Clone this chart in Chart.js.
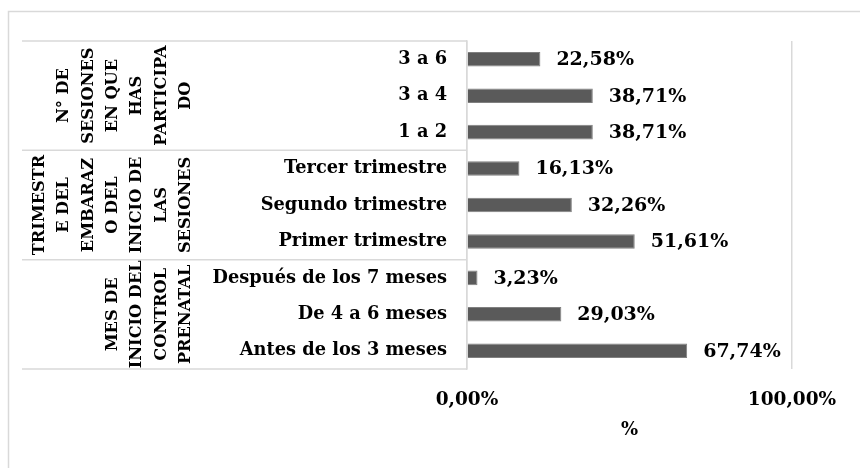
<!DOCTYPE html>
<html>
<head>
<meta charset="utf-8">
<script src="https://cdn.jsdelivr.net/npm/chart.js@4.4.0/dist/chart.umd.min.js"></script>
<style>
  html, body { margin: 0; padding: 0; background: #fff; }
  #wrap { width: 860px; height: 468px; position: relative; }
</style>
</head>
<body>
<div id="wrap"><canvas id="barChart" width="860" height="468"></canvas></div>
<script>
// categories, top to bottom
const categories = [
    '3 a 6', '3 a 4', '1 a 2',
    'Tercer trimestre', 'Segundo trimestre', 'Primer trimestre',
    'Después de los 7 meses', 'De 4 a 6 meses', 'Antes de los 3 meses'
];
const percentages = [22.58, 38.71, 38.71, 16.13, 32.26, 51.61, 3.23, 29.03, 67.74];

// group labels (as wrapped in the original) and how many categories each covers
const groupLines = [
    ['N° DE', 'SESIONES', 'EN QUE', 'HAS', 'PARTICIPA', 'DO'],
    ['TRIMESTR', 'E DEL', 'EMBARAZ', 'O DEL', 'INICIO DE', 'LAS', 'SESIONES'],
    ['MES DE', 'INICIO DEL', 'CONTROL', 'PRENATAL']
];
const groupSizes = [3, 3, 3];

const xTicks = [0, 100];
const axisTitle = '%';

const FONT = '"DejaVu Serif", "Liberation Serif", serif';
const LINE = '#d9d9d9';

function fmtPct(v) {
    return v.toFixed(2).replace('.', ',') + '%';
}

// frame around the chart + table lines and group labels on the left
const tablePlugin = {
    id: 'tablePlugin',
    beforeDraw(chart) {
        const ctx = chart.ctx;
        ctx.save();
        ctx.strokeStyle = LINE;
        ctx.lineWidth = 1.5;
        ctx.strokeRect(8.5, 11.5, 870, 480);
        ctx.restore();
    },
    afterDraw(chart) {
        const ctx = chart.ctx;
        const area = chart.chartArea;
        const step = (area.bottom - area.top) / categories.length;

        ctx.save();
        ctx.strokeStyle = LINE;
        ctx.lineWidth = 1.5;
        let start = 0;
        const bounds = [area.top];
        groupSizes.forEach(n => {
            start += n;
            bounds.push(area.top + start * step);
        });
        bounds.forEach(b => {
            ctx.beginPath();
            ctx.moveTo(22, b);
            ctx.lineTo(area.left, b);
            ctx.stroke();
        });

        // rotated group labels
        ctx.fillStyle = '#000';
        ctx.font = 'bold 16.2px ' + FONT;
        ctx.textAlign = 'center';
        ctx.textBaseline = 'middle';
        groupLines.forEach((lines, g) => {
            const cy = (bounds[g] + bounds[g + 1]) / 2;
            lines.forEach((txt, i) => {
                const cx = 186 - (lines.length - 1 - i) * 24.4;
                ctx.save();
                ctx.translate(cx, cy);
                ctx.rotate(-Math.PI / 2);
                ctx.fillText(txt, 0, 0);
                ctx.restore();
            });
        });

        // value labels next to bars
        ctx.font = 'bold 19px ' + FONT;
        ctx.textAlign = 'left';
        const meta = chart.getDatasetMeta(0);
        meta.data.forEach((bar, i) => {
            ctx.fillText(fmtPct(percentages[i]), bar.x + 16, bar.y + 1);
        });
        ctx.restore();
    }
};

function createBarChart() {
    const ctx = document.getElementById('barChart').getContext('2d');
    new Chart(ctx, {
        type: 'bar',
        data: {
            labels: categories,
            datasets: [{
                data: percentages,
                backgroundColor: '#5a5a5a',
                borderColor: '#808080',
                borderWidth: 1,
                categoryPercentage: 1,
                barPercentage: 0.4
            }]
        },
        options: {
            indexAxis: 'y',
            responsive: false,
            animation: false,
            layout: { padding: { top: 41, right: 68, left: 0, bottom: 0 } },
            plugins: {
                legend: { display: false },
                tooltip: { enabled: false }
            },
            scales: {
                x: {
                    min: 0,
                    max: 100,
                    afterBuildTicks(scale) {
                        scale.ticks = xTicks.map(v => ({ value: v }));
                    },
                    afterFit(scale) { scale.height = 99; },
                    grid: { color: LINE, lineWidth: 1.5, drawTicks: false },
                    border: { display: false },
                    ticks: {
                        padding: 20,
                        color: '#000',
                        font: { family: FONT, size: 18.5, weight: 'bold' },
                        callback: v => fmtPct(v)
                    },
                    title: {
                        display: true,
                        text: axisTitle,
                        color: '#000',
                        font: { family: FONT, size: 18, weight: 'bold' },
                        padding: { top: 0, bottom: 27 }
                    }
                },
                y: {
                    afterFit(scale) { scale.width = 467; },
                    grid: { display: false, drawTicks: false },
                    border: { display: true, color: LINE, width: 1.5 },
                    ticks: {
                        padding: 20,
                        color: '#000',
                        font: { family: FONT, size: 17.8, weight: 'bold' }
                    }
                }
            }
        },
        plugins: [tablePlugin]
    });
}

document.addEventListener('DOMContentLoaded', createBarChart);
</script>
</body>
</html>
